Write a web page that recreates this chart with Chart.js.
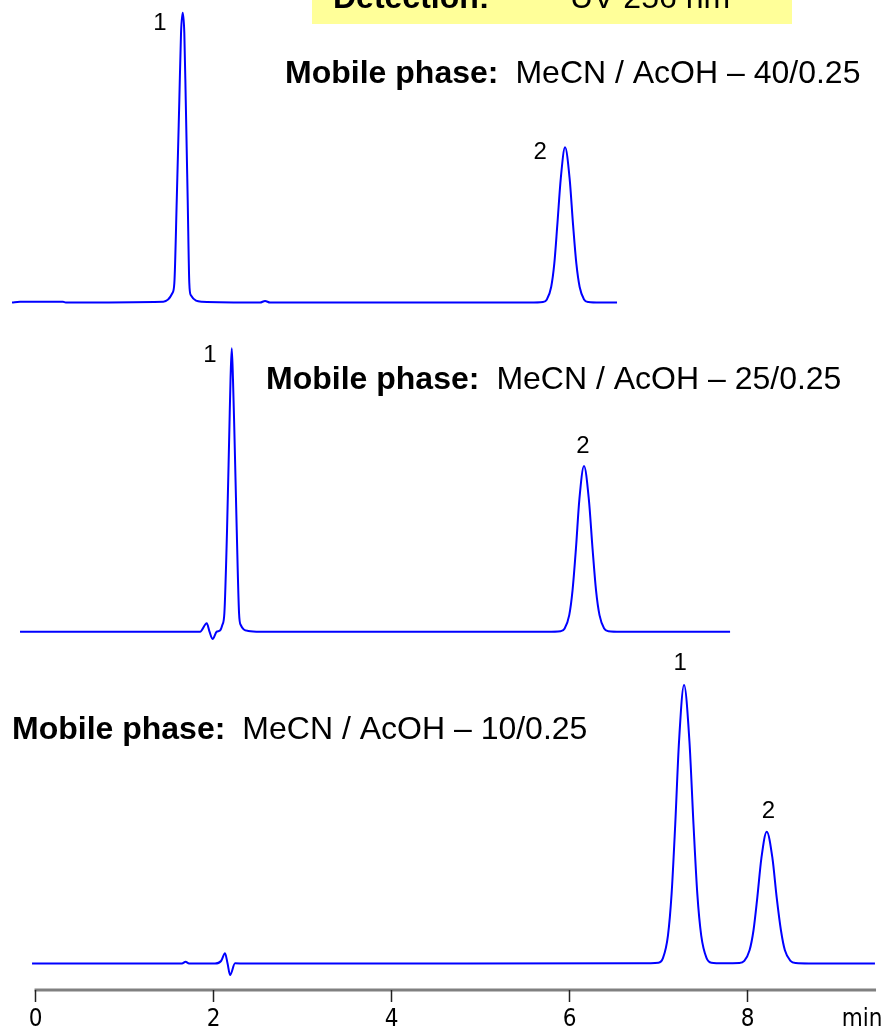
<!DOCTYPE html>
<html>
<head>
<meta charset="utf-8">
<title>Chromatograms</title>
<script src="https://cdn.jsdelivr.net/npm/chart.js@4.4.1/dist/chart.umd.min.js"></script>
<style>
    html, body { margin: 0; padding: 0; background: #fff; }
    canvas { display: block; }
</style>
</head>
<body>
<canvas id="chromChart" width="890" height="1034"></canvas>
<script>
// Retention time (min) and detector signal above each baseline (arbitrary units)
const TIME_1 = [-0.253, -0.163, 0.320, 0.350, 1.447, 1.548, 1.571, 1.598, 1.627, 1.646, 1.665, 1.683, 1.699, 1.721, 1.739, 1.755, 1.879,
    2.534, 2.590, 2.646, 5.567, 5.712, 5.757, 5.805, 5.840, 5.874, 5.913, 5.961, 6.012, 6.051, 6.088, 6.125, 6.174, 6.222, 6.354, 6.545];
const SIGNAL_1 = [0, 0.08, 0.08, 0, 0.08, 0.92, 1.95, 10.25, 20.25, 26.95, 28.98, 26.95, 20.25, 10.25, 1.95, 0.75, 0.08,
    0, 0.15, 0, 0, 0.05, 0.31, 1.55, 3.88, 7.76, 12.42, 15.52, 12.42, 7.76, 3.88, 1.55, 0.31, 0.05, 0, 0];

const TIME_2 = [-0.163, 1.860, 1.935, 1.966, 2.000, 2.047, 2.084, 2.110, 2.133, 2.163, 2.189, 2.202, 2.216, 2.230, 2.245, 2.272, 2.298, 2.317, 2.402,
    2.534, 5.761, 5.910, 5.957, 6.008, 6.045, 6.083, 6.122, 6.174, 6.228, 6.270, 6.309, 6.348, 6.400, 6.450, 6.587, 7.815];
const SIGNAL_2 = [0, 0, 0.84, 0, -0.73, 0, 0.12, 0.67, 1.84, 10.17, 20.17, 25.17, 28.34, 25.17, 20.17, 10.17, 1.84, 0.67, 0.07,
    0, 0, 0.05, 0.33, 1.66, 4.14, 8.29, 13.26, 16.57, 13.26, 8.29, 4.14, 1.66, 0.33, 0.05, 0, 0];

const TIME_3 = [-0.028, 1.657, 1.697, 1.736, 2.028, 2.096, 2.140, 2.169, 2.197, 2.253, 2.365, 6.803,
    7.010, 7.062, 7.117, 7.158, 7.199, 7.242, 7.298, 7.358, 7.404, 7.447, 7.491, 7.550, 7.605,
    7.739,
    7.920, 7.975, 8.034, 8.078, 8.121, 8.167, 8.227, 8.291, 8.339, 8.387, 8.431, 8.494, 8.553,
    8.700, 9.443];
const SIGNAL_3 = [0, 0, 0.17, 0, 0, 0.25, 1.02, 0, -1.15, 0.02, 0, 0.02,
    0.08, 0.56, 2.79, 6.96, 13.93, 22.28, 27.85, 22.28, 13.93, 6.96, 2.79, 0.56, 0.08,
    0.02,
    0.04, 0.26, 1.32, 3.30, 6.59, 10.54, 13.18, 10.54, 6.59, 3.30, 1.32, 0.26, 0.04,
    0, 0];

// vertical stacking of the three runs
const BASELINES = [73.15, 40.23, 7.05];

const MOBILE_PHASES = ['MeCN / AcOH \u2013 40/0.25', 'MeCN / AcOH \u2013 25/0.25', 'MeCN / AcOH \u2013 10/0.25'];
const PEAK_NAMES = ['1', '2', '1', '2', '1', '2'];
const TICK_VALUES = [0, 2, 4, 6, 8];
const AXIS_UNIT = 'min';
const DETECTION = ['Detection:', 'UV 256 nm'];

// where the text goes (in chart units: min / signal)
const phasePos = [[2.815, 96.0], [2.601, 65.4], [-0.253, 30.4]];
const peakLabelPos = [[1.410, 101.1], [5.680, 88.2], [1.972, 67.9], [6.163, 58.8], [7.253, 37.1], [8.245, 22.23]];
const AXIS_END = 9.455;
const AXIS_Y = 4.4;

function toPoints(times, signals, base) {
    return times.map((t, i) => ({ x: t, y: signals[i] + base }));
}

const textPlugin = {
    id: 'chromText',
    afterDraw(chart) {
        const ctx = chart.ctx;
        const xs = chart.scales.x;
        const ys = chart.scales.y;
        ctx.save();

        // detection box at the top (partly cut off)
        ctx.fillStyle = '#ffff99';
        ctx.fillRect(312, 0, 480, 24);
        ctx.fillStyle = '#000';
        ctx.textBaseline = 'alphabetic';
        ctx.textAlign = 'left';
        ctx.font = 'bold 32px "Liberation Sans", Arial, sans-serif';
        ctx.fillText(DETECTION[0], 333, 8);
        ctx.font = '32px "Liberation Sans", Arial, sans-serif';
        ctx.fillText(DETECTION[1], 570, 8);

        // mobile phase captions
        ctx.textBaseline = 'middle';
        MOBILE_PHASES.forEach((txt, i) => {
            const px = xs.getPixelForValue(phasePos[i][0]);
            const py = ys.getPixelForValue(phasePos[i][1]);
            ctx.font = 'bold 32px "Liberation Sans", Arial, sans-serif';
            ctx.fillText('Mobile phase:', px, py);
            const w = ctx.measureText('Mobile phase:').width;
            ctx.font = '32px "Liberation Sans", Arial, sans-serif';
            ctx.fillText(txt, px + w + 17, py);
        });

        // peak numbers
        ctx.textAlign = 'center';
        ctx.font = '24px "Liberation Sans", Arial, sans-serif';
        PEAK_NAMES.forEach((name, i) => {
            ctx.fillText(name, xs.getPixelForValue(peakLabelPos[i][0]), ys.getPixelForValue(peakLabelPos[i][1]));
        });

        // time axis
        const ay = ys.getPixelForValue(AXIS_Y);
        ctx.strokeStyle = '#808080';
        ctx.lineWidth = 3;
        ctx.beginPath();
        ctx.moveTo(xs.getPixelForValue(0), ay);
        ctx.lineTo(xs.getPixelForValue(AXIS_END), ay);
        ctx.stroke();

        ctx.strokeStyle = '#222';
        ctx.lineWidth = 1.5;
        ctx.font = '24px "Liberation Sans Narrow", "DejaVu Sans Condensed", sans-serif';
        TICK_VALUES.forEach(v => {
            const tx = Math.round(xs.getPixelForValue(v)) + 0.5;
            ctx.beginPath();
            ctx.moveTo(tx, ay);
            ctx.lineTo(tx, ay + 12);
            ctx.stroke();
            ctx.fillText(String(v), tx, ay + 30);
        });
        ctx.fillText(AXIS_UNIT, 862, ay + 30);
        ctx.restore();
    }
};

const ctx = document.getElementById('chromChart').getContext('2d');
const chromChart = new Chart(ctx, {
    type: 'line',
    data: {
        datasets: [
            { data: toPoints(TIME_1, SIGNAL_1, BASELINES[0]) },
            { data: toPoints(TIME_2, SIGNAL_2, BASELINES[1]) },
            { data: toPoints(TIME_3, SIGNAL_3, BASELINES[2]) }
        ]
    },
    options: {
        responsive: false,
        animation: false,
        layout: { padding: 0 },
        elements: {
            line: { borderColor: '#0000ff', borderWidth: 2, cubicInterpolationMode: 'monotone', fill: false },
            point: { radius: 0 }
        },
        scales: {
            x: { type: 'linear', min: -0.388, max: 9.612, display: false },
            y: { type: 'linear', min: 0, max: 103.4, display: false }
        },
        plugins: {
            legend: { display: false },
            tooltip: { enabled: false }
        }
    },
    plugins: [textPlugin]
});
</script>
</body>
</html>
